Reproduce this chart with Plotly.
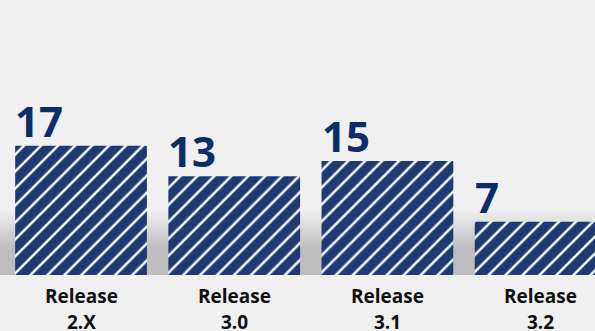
import plotly.graph_objects as go

categories = ["Release 2.X", "Release 3.0", "Release 3.1", "Release 3.2"]
line1 = ["Release", "Release", "Release", "Release"]
line2 = ["2.X", "3.0", "3.1", "3.2"]
values = [17, 13, 15, 7]

BAR_COLOR = "#1f3a72"
TEXT_COLOR = "#0b2d6a"
BG = "#f0f0f0"
bar_width = 0.86

xs = list(range(len(categories)))

fig = go.Figure()
fig.add_trace(go.Bar(
    x=xs, y=values, width=bar_width,
    marker=dict(
        color=BAR_COLOR,
        line=dict(width=0),
        pattern=dict(shape="/", fgcolor="white", bgcolor=BAR_COLOR,
                     size=12, solidity=0.2, fillmode="overlay", fgopacity=1),
    ),
    hoverinfo="skip",
))

annotations = []
for i, v in enumerate(values):
    annotations.append(dict(
        x=i - bar_width / 2, y=v, xref="x", yref="y",
        text=str(v), showarrow=False, xanchor="left", yanchor="bottom",
        xshift=-2, yshift=-5,
        font=dict(family="Open Sans", size=42, color=TEXT_COLOR, weight=700),
    ))
    annotations.append(dict(
        x=i, y=0, xref="x", yref="y",
        text=line1[i], showarrow=False,
        xanchor="center", yanchor="middle", yshift=-21,
        font=dict(family="Open Sans", size=19, color="#111111", weight=700),
    ))
    annotations.append(dict(
        x=i, y=0, xref="x", yref="y",
        text=line2[i], showarrow=False,
        xanchor="center", yanchor="middle", yshift=-47,
        font=dict(family="Open Sans", size=19, color="#111111", weight=700),
    ))

# background gradient band (decoration) near the baseline
shapes = []
plot_h = 275.0
flat_px = 27
grad_px = 38
dark = 190
shapes.append(dict(
    type="rect", xref="paper", yref="paper", layer="below",
    x0=0, x1=1, y0=0, y1=flat_px / plot_h,
    fillcolor=f"rgb({dark},{dark},{dark})", line=dict(width=0),
))
n = 38
for k in range(n):
    y0 = flat_px + grad_px * k / n
    y1 = flat_px + grad_px * (k + 1) / n
    t = (k + 0.5) / n  # 0 at bottom of gradient, 1 at top
    c = int(round(dark + (240 - dark) * t))
    shapes.append(dict(
        type="rect", xref="paper", yref="paper", layer="below",
        x0=0, x1=1, y0=y0 / plot_h, y1=y1 / plot_h,
        fillcolor=f"rgb({c},{c},{c})", line=dict(width=0),
    ))

fig.update_layout(
    width=595, height=331,
    margin=dict(l=0, r=0, t=0, b=56),
    paper_bgcolor=BG, plot_bgcolor=BG,
    showlegend=False,
    bargap=0.14,
    xaxis=dict(range=[-0.529, 3.355], visible=False, fixedrange=True),
    yaxis=dict(range=[0, 36.2], visible=False, fixedrange=True),
    annotations=annotations,
    shapes=shapes,
)

fig.write_html("out.html")
